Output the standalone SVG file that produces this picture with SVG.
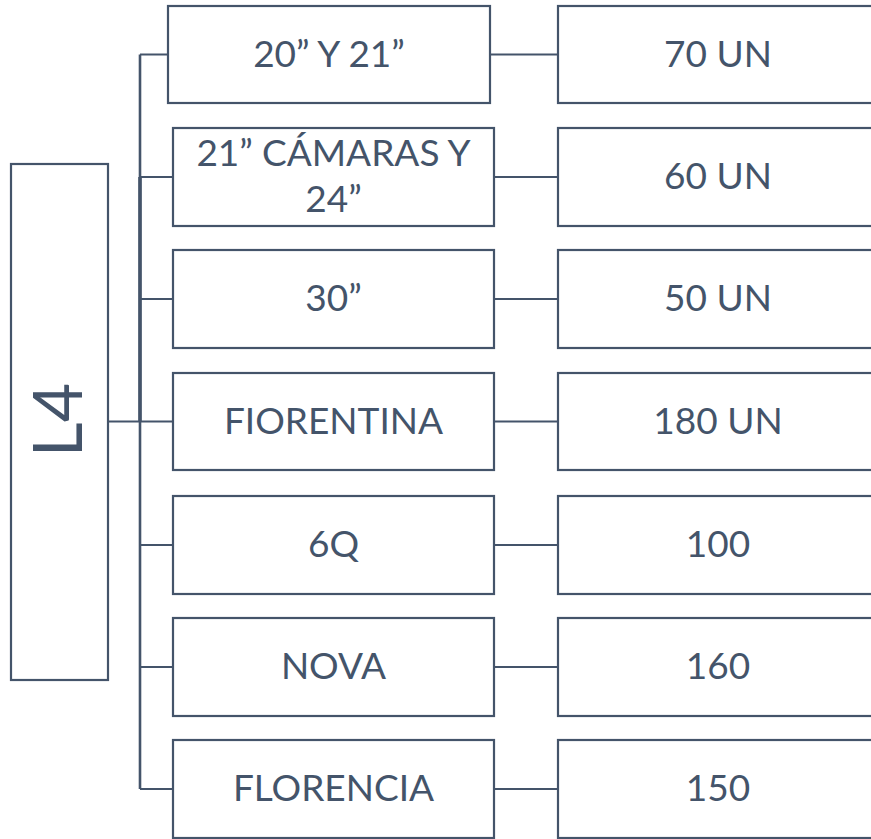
<svg xmlns="http://www.w3.org/2000/svg" width="871" height="839" viewBox="0 0 871 839">
<style>
.box{fill:#ffffff;stroke:#44546A;stroke-width:2.2}
.ln{fill:none;stroke:#44546A;stroke-width:2.2}
.t{font-family:Lato,"Open Sans","Liberation Sans",sans-serif;font-size:37px;fill:#44546A;text-anchor:middle}
</style>
<rect x="0" y="0" width="871" height="839" fill="#ffffff"/>
<g id="connectors">
<path class="ln" d="M140,54.5 V789" style="stroke-width:2.6"/>
<path class="ln" d="M140,177 V421.5" style="stroke-width:3.6"/>
<path class="ln" d="M108,421.5 H173"/>
<path class="ln" d="M140,54.5 H168 M140,177 H173 M140,299 H173 M140,545 H173 M140,667 H173 M140,789 H173"/>
<path class="ln" d="M490,54.5 H558 M494,177 H558 M494,299 H558 M494,421.5 H558 M494,545 H558 M494,667 H558 M494,789 H558"/>
</g>
<g id="L4">
<rect class="box" x="11" y="164" width="97" height="516"/>
<text class="t" transform="translate(82,420) rotate(-90)" x="0" y="0" style="font-size:68px">L4</text>
</g>
<g id="n1"><rect class="box" x="168" y="6" width="322" height="97"/><text class="t" x="329" y="66.5">20” Y 21”</text></g>
<g id="n2"><rect class="box" x="173" y="128" width="321" height="98"/><text class="t" x="333.5" y="165.7">21” CÁMARAS Y</text><text class="t" x="333.5" y="212.3">24”</text></g>
<g id="n3"><rect class="box" x="173" y="250" width="321" height="98"/><text class="t" x="333.5" y="311">30”</text></g>
<g id="n4"><rect class="box" x="173" y="373" width="321" height="97"/><text class="t" x="333.5" y="433.5">FIORENTINA</text></g>
<g id="n5"><rect class="box" x="173" y="496" width="321" height="98"/><text class="t" x="333.5" y="557">6Q</text></g>
<g id="n6"><rect class="box" x="173" y="618" width="321" height="98"/><text class="t" x="333.5" y="679">NOVA</text></g>
<g id="n7"><rect class="box" x="173" y="740" width="321" height="98"/><text class="t" x="333.5" y="801">FLORENCIA</text></g>
<g id="v1"><rect class="box" x="558" y="6" width="330" height="97"/><text class="t" x="718" y="66.5">70 UN</text></g>
<g id="v2"><rect class="box" x="558" y="128" width="330" height="98"/><text class="t" x="718" y="189">60 UN</text></g>
<g id="v3"><rect class="box" x="558" y="250" width="330" height="98"/><text class="t" x="718" y="311">50 UN</text></g>
<g id="v4"><rect class="box" x="558" y="373" width="330" height="97"/><text class="t" x="718" y="433.5">180 UN</text></g>
<g id="v5"><rect class="box" x="558" y="496" width="330" height="98"/><text class="t" x="718" y="557">100</text></g>
<g id="v6"><rect class="box" x="558" y="618" width="330" height="98"/><text class="t" x="718" y="679">160</text></g>
<g id="v7"><rect class="box" x="558" y="740" width="330" height="98"/><text class="t" x="718" y="801">150</text></g>
</svg>
